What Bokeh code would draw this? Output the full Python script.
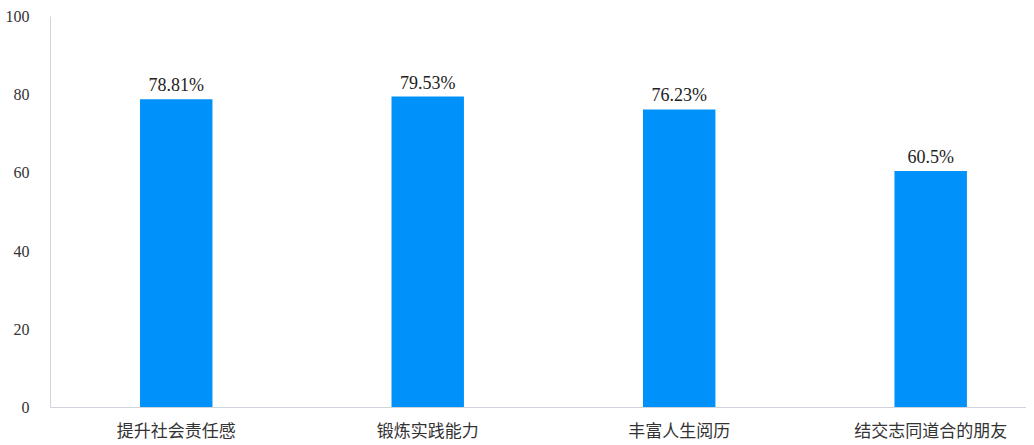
from bokeh.plotting import figure
from bokeh.models import ColumnDataSource, Range1d, FixedTicker, LabelSet
from bokeh.embed import file_html
from bokeh.resources import INLINE

categories = ["提升社会责任感", "锻炼实践能力", "丰富人生阅历", "结交志同道合的朋友"]
values = [78.81, 79.53, 76.23, 60.5]
value_labels = ["78.81%", "79.53%", "76.23%", "60.5%"]
y_ticks = [0, 20, 40, 60, 80, 100]

SERIF = "Liberation Serif"

xpos = [i + 0.5 for i in range(len(categories))]
src = ColumnDataSource(dict(x=xpos, top=values, label=value_labels))

p = figure(width=1026, height=444, output_backend="svg", toolbar_location=None,
           x_range=Range1d(0, 3.881), y_range=Range1d(0, 100),
           min_border_left=50, min_border_top=16, min_border_right=0, min_border_bottom=37)
p.outline_line_color = None
p.xgrid.visible = False
p.ygrid.visible = False
p.background_fill_color = "white"

p.vbar(x="x", top="top", width=0.288, source=src, fill_color="#0091FA", line_color=None)

labels = LabelSet(x="x", y="top", text="label", source=src, text_align="center",
                  text_baseline="alphabetic", y_offset=8,
                  text_font=SERIF, text_font_size="18px", text_color="#222222")
p.add_layout(labels)

p.xaxis.ticker = FixedTicker(ticks=xpos)
p.xaxis.major_label_overrides = {x: c for x, c in zip(xpos, categories)}
p.xaxis.major_label_text_font = "Noto Sans CJK SC"
p.xaxis.major_label_text_font_size = "17px"
p.xaxis.major_label_text_color = "#333333"
p.xaxis.major_label_standoff = 9
p.xaxis.axis_label_standoff = 0
p.xaxis.major_tick_out = 0
p.xaxis.major_tick_in = 0
p.xaxis.major_tick_line_color = None
p.xaxis.minor_tick_line_color = None
p.xaxis.axis_line_color = "#D0D4DC"

p.yaxis.ticker = FixedTicker(ticks=y_ticks)
p.yaxis.major_label_text_font = SERIF
p.yaxis.major_label_text_font_size = "16px"
p.yaxis.major_label_text_color = "#333333"
p.yaxis.major_label_standoff = 21
p.yaxis.axis_label_standoff = 0
p.yaxis.major_tick_out = 0
p.yaxis.major_tick_in = 0
p.yaxis.major_tick_line_color = None
p.yaxis.minor_tick_line_color = None
p.yaxis.axis_line_color = "#D0D4DC"

open("out.html", "w").write(file_html(p, INLINE))
